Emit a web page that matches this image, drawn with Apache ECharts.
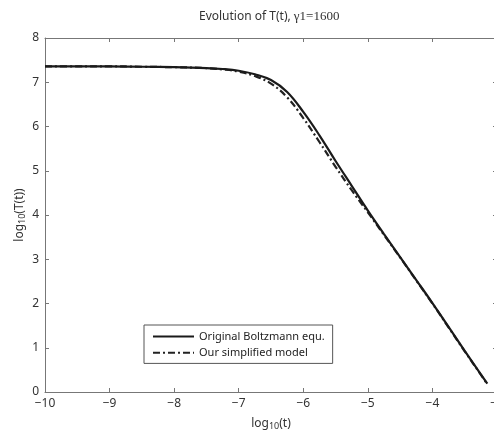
<!DOCTYPE html>
<html>
<head>
<meta charset="utf-8">
<script src="https://cdn.jsdelivr.net/npm/echarts@6/dist/echarts.min.js"></script>
<style>
html,body{margin:0;padding:0;background:#fff;}
#c{width:494px;height:431px;}
</style>
</head>
<body>
<div id="c"></div>
<script>
// Tick labels
var xTicks = [-10, -9, -8, -7, -6, -5, -4, -3];
var yTicks = [0, 1, 2, 3, 4, 5, 6, 7, 8];

// Original Boltzmann equation (solid)
var xOrig = [-10, -9.5, -9, -8.5, -8, -7.5, -7.25, -7, -6.75, -6.5, -6.25, -6, -5.75, -5.5, -5.25, -5, -4.75, -4.5, -4.25, -4, -3.75, -3.5, -3.25, -3.15];
var yOrig = [7.36, 7.36, 7.36, 7.35, 7.34, 7.32, 7.30, 7.26, 7.18, 7.05, 6.78, 6.33, 5.80, 5.22, 4.66, 4.10, 3.57, 3.05, 2.53, 2.01, 1.47, 0.93, 0.40, 0.19];

// Our simplified model (dash-dot)
var xSimp = [-10, -9.5, -9, -8.5, -8, -7.5, -7.25, -7, -6.75, -6.5, -6.25, -6, -5.75, -5.5, -5.25, -5, -4.75, -4.5, -4.25, -4, -3.75, -3.5, -3.25, -3.15];
var ySimp = [7.36, 7.36, 7.36, 7.35, 7.34, 7.32, 7.29, 7.24, 7.14, 6.97, 6.66, 6.19, 5.65, 5.09, 4.56, 4.06, 3.55, 3.04, 2.52, 2.00, 1.46, 0.92, 0.39, 0.18];

var seriesNames = ['Original Boltzmann equ.', 'Our simplified model'];

function pairs(xs, ys) { return xs.map(function (x, i) { return [x, ys[i]]; }); }
function fmt(v) { return v < 0 ? '\u2212' + Math.abs(v) : String(v); }

var axisColor = '#777';
var textColor = '#333';
var font = 'Noto Sans';

var chart = echarts.init(document.getElementById('c'), null, {renderer: 'canvas'});
chart.setOption({
  animation: false,
  backgroundColor: '#fff',
  title: {
    text: 'Evolution of T(t), {s|\u03b31=1600}',
    left: 194,
    top: 5,
    textStyle: {
      fontFamily: font, fontSize: 12, fontWeight: 'normal', color: textColor,
      rich: { s: { fontFamily: 'Liberation Serif', fontSize: 13, color: textColor } }
    }
  },
  grid: { left: 45, top: 38, right: -3, bottom: 39, outerBoundsMode: 'none', containLabel: false },
  legend: {
    orient: 'vertical',
    left: 144, top: 325,
    data: seriesNames,
    borderColor: '#555', borderWidth: 1,
    padding: [6, 8, 5, 8],
    itemGap: 5,
    itemWidth: 41, itemHeight: 14,
    itemStyle: { opacity: 0 },
    backgroundColor: '#fff',
    textStyle: { fontFamily: font, fontSize: 11, color: '#222' }
  },
  xAxis: [{
    type: 'value', min: xTicks[0], max: xTicks[xTicks.length - 1], interval: 1,
    name: 'log{sub|10}(t)', nameLocation: 'middle', nameGap: 24, nameMoveOverlap: false,
    nameTextStyle: { fontFamily: font, fontSize: 12, color: textColor,
      rich: { sub: { fontSize: 9, verticalAlign: 'bottom', padding: [6, 0, 0, 0], fontFamily: font, color: textColor } } },
    axisLine: { lineStyle: { color: axisColor, width: 1 } },
    axisTick: { inside: true, length: 4, lineStyle: { color: axisColor } },
    axisLabel: { formatter: fmt, margin: 6, fontFamily: font, fontSize: 12, color: textColor, showMaxLabel: true, showMinLabel: true },
    splitLine: { show: false }
  }, {
    type: 'value', position: 'top', min: xTicks[0], max: xTicks[xTicks.length - 1], interval: 1,
    axisLine: { show: true, onZero: false, lineStyle: { color: axisColor, width: 1 } },
    axisTick: { inside: true, length: 4, lineStyle: { color: axisColor } },
    axisLabel: { show: false }, splitLine: { show: false }
  }],
  yAxis: [{
    type: 'value', min: yTicks[0], max: yTicks[yTicks.length - 1], interval: 1,
    name: 'log{sub|10}(T(t))', nameLocation: 'middle', nameGap: 18, nameRotate: 90, nameMoveOverlap: false,
    nameTextStyle: { fontFamily: font, fontSize: 12, color: textColor,
      rich: { sub: { fontSize: 9, verticalAlign: 'bottom', padding: [6, 0, 0, 0], fontFamily: font, color: textColor } } },
    axisLine: { show: true, lineStyle: { color: axisColor, width: 1 } },
    axisTick: { show: true, inside: true, length: 4, lineStyle: { color: axisColor } },
    axisLabel: { formatter: fmt, margin: 6, fontFamily: font, fontSize: 12, color: textColor },
    splitLine: { show: false }
  }, {
    type: 'value', position: 'right', min: yTicks[0], max: yTicks[yTicks.length - 1], interval: 1,
    axisLine: { show: true, onZero: false, lineStyle: { color: axisColor, width: 1 } },
    axisTick: { show: true, inside: true, length: 4, lineStyle: { color: axisColor } },
    axisLabel: { show: false }, splitLine: { show: false }
  }],
  series: [{
    name: seriesNames[0], type: 'line', smooth: 0.4, showSymbol: false, symbol: 'none',
    data: pairs(xOrig, yOrig),
    lineStyle: { color: '#1a1a1a', width: 2.2, type: 'solid' },
    itemStyle: { color: '#1a1a1a' }, z: 3
  }, {
    name: seriesNames[1], type: 'line', smooth: 0.4, showSymbol: false, symbol: 'none',
    data: pairs(xSimp, ySimp),
    lineStyle: { color: '#222', width: 2.2, type: [7, 3, 2, 3] },
    itemStyle: { color: '#222' }, z: 2
  }]
});
</script>
</body>
</html>
